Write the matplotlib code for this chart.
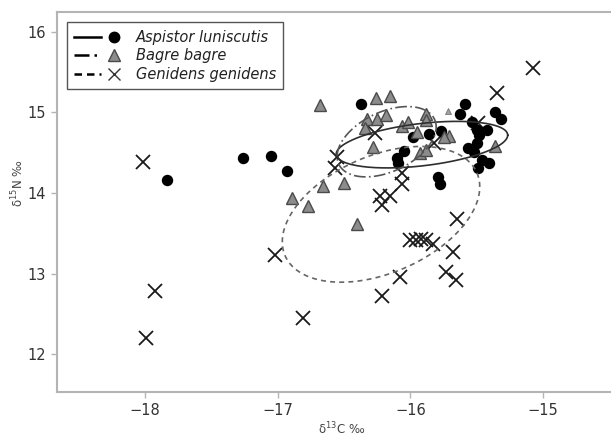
import matplotlib
matplotlib.use('Agg')
import matplotlib.pyplot as plt
from matplotlib.lines import Line2D
from matplotlib.legend_handler import HandlerTuple
import numpy as np

# Aspistor luniscutis (d13C, d15N)
asp_c = [-17.83, -17.26, -17.05, -16.93, -16.37, -15.98, -15.86, -15.77, -16.05, -16.10,
         -16.09, -15.79, -15.78, -15.59, -15.63, -15.36, -15.32, -15.54, -15.50, -15.42,
         -15.48, -15.50, -15.57, -15.52, -15.46, -15.41, -15.49]
asp_n = [14.16, 14.43, 14.46, 14.27, 15.11, 14.70, 14.73, 14.77, 14.52, 14.43,
         14.37, 14.20, 14.11, 15.11, 14.98, 15.01, 14.92, 14.88, 14.78, 14.78,
         14.72, 14.62, 14.56, 14.51, 14.41, 14.37, 14.31]

# Bagre bagre
bag_c = [-16.68, -16.26, -16.15, -16.33, -16.25, -16.18, -16.34, -16.28, -16.06, -16.02,
         -15.95, -15.88, -15.88, -15.71, -15.75, -15.93, -15.88, -15.36, -16.89, -16.77,
         -16.66, -16.50, -16.40]
bag_n = [15.09, 15.18, 15.20, 14.92, 14.92, 14.97, 14.81, 14.57, 14.83, 14.88,
         14.76, 14.98, 14.91, 14.71, 14.70, 14.50, 14.53, 14.58, 13.94, 13.84,
         14.09, 14.12, 13.62]
bag_small_c = [-15.72]
bag_small_n = [15.02]

# Genidens genidens
gen_c = [-18.01, -17.92, -17.99, -17.02, -16.81, -15.08, -15.35, -16.27, -16.55, -16.57,
         -15.82, -15.49, -16.06, -16.06, -16.23, -16.15, -16.21, -15.65, -16.00, -15.96,
         -15.92, -15.88, -15.83, -15.68, -15.73, -15.66, -16.08, -16.21]
gen_n = [14.39, 12.78, 12.20, 13.23, 12.45, 15.55, 15.24, 14.75, 14.45, 14.31,
         14.62, 14.87, 14.25, 14.11, 13.96, 13.96, 13.85, 13.68, 13.42, 13.42,
         13.43, 13.42, 13.37, 13.27, 13.02, 12.92, 12.96, 12.72]

species = ['Aspistor luniscutis', 'Bagre bagre', 'Genidens genidens']


def std_ellipse(xs, ys):
    # 1 SD standard ellipse from the sample covariance
    xs = np.array(xs); ys = np.array(ys)
    cov = np.cov(xs, ys)
    L = np.linalg.cholesky(cov)
    t = np.linspace(0, 2*np.pi, 200)
    pts = L @ np.vstack([np.cos(t), np.sin(t)])
    return xs.mean() + pts[0], ys.mean() + pts[1]


fig = plt.figure(figsize=(6.11, 4.37), dpi=100)
ax = fig.add_axes([0.0933, 0.103, 0.9067, 0.870])

spine_col = '#b4b4b4'
for s in ['left', 'bottom', 'top']:
    ax.spines[s].set_color(spine_col)
    ax.spines[s].set_linewidth(1.5)
ax.spines['right'].set_visible(False)

ex, ey = std_ellipse(asp_c, asp_n)
ax.plot(ex, ey, color='#2e2e2e', lw=1.2, ls='-', zorder=4)
ex, ey = std_ellipse(bag_c, bag_n)
ax.plot(ex, ey, color='#555555', lw=1.2, ls=(0, (7, 2, 1, 2)), zorder=4)
ex, ey = std_ellipse(gen_c, gen_n)
ax.plot(ex, ey, color='#666666', lw=1.2, ls=(0, (3, 2.5)), zorder=4)

ax.plot(gen_c, gen_n, ls='none', marker='x', ms=10, mew=1.3, color='#1a1a1a', zorder=2)
ax.plot(asp_c, asp_n, ls='none', marker='o', ms=7.2, color='black', mec='black', zorder=3)
ax.plot(bag_c, bag_n, ls='none', marker='^', ms=8.5, mfc='#8c8c8c', mec='#4a4a4a', mew=1.0, zorder=3)
ax.plot(bag_small_c, bag_small_n, ls='none', marker='^', ms=4.5, mfc='#a0a0a0', mec='#777777', mew=0.6, zorder=3)

ax.set_xlim(-18.66, -14.49)
ax.set_ylim(11.53, 16.25)
ax.set_xticks([-18, -17, -16, -15])
ax.set_yticks([12, 13, 14, 15, 16])
ax.tick_params(direction='out', length=4, width=1, color=spine_col,
               labelsize=10.5, labelcolor='#333333', pad=4)

ax.set_xlabel(r'δ$^{13}$C ‰', fontsize=8.5, color='#444444')
ax.set_ylabel(r'δ$^{15}$N ‰', fontsize=8.5, color='#444444')
ax.xaxis.set_label_coords(0.513, -0.075)
ax.yaxis.set_label_coords(-0.055, 0.55)

h1 = (Line2D([], [], color='black', lw=1.8, ls='-'),
      Line2D([], [], ls='none', marker='o', ms=7.5, color='black'))
h2 = (Line2D([], [], color='black', lw=1.8, ls=(0, (6, 2, 1, 2))),
      Line2D([], [], ls='none', marker='^', ms=8.5, mfc='#8c8c8c', mec='#4a4a4a'))
h3 = (Line2D([], [], color='black', lw=1.8, ls=(0, (3, 2))),
      Line2D([], [], ls='none', marker='x', ms=8, mew=1.0, color='#333333'))
leg = ax.legend([h1, h2, h3], species, loc='upper left', bbox_to_anchor=(0.018, 0.972),
                borderaxespad=0, handler_map={tuple: HandlerTuple(ndivide=None, pad=0.0)},
                handlelength=3.6, handletextpad=0.6, labelspacing=0.25, borderpad=0.5,
                fancybox=False, framealpha=1, edgecolor='#555555',
                prop={'style': 'italic', 'size': 10.5})
leg.get_frame().set_linewidth(1.0)
for t in leg.get_texts():
    t.set_color('#222222')

fig.savefig('out.png', dpi=100)
